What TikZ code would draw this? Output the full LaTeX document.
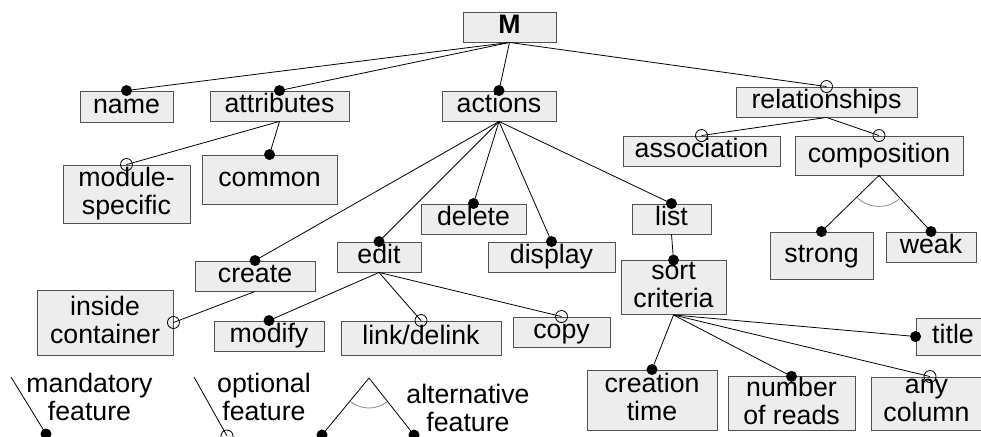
\documentclass[tikz,border=0pt]{standalone}
\usepackage{fontspec}
\setmainfont{Liberation Sans}
\usetikzlibrary{calc}
% strut giving every text line the same height and depth
\newcommand\lnstrut{\rule[-6pt]{0pt}{25pt}}

\begin{document}
\begin{tikzpicture}[x=1pt,y=-1pt,
  txt/.style={inner sep=0pt,align=center,font=\fontsize{26.7}{28}\selectfont,
    execute at begin node=\lnstrut,execute at end node=\lnstrut},
  box/.style={txt,draw=black!68,fill=black!7,line width=0.9pt},
  conn/.style={draw=black,line width=0.8pt},
  mand/.style={circle,fill=black,draw=none,inner sep=0pt,minimum size=11pt},
  opt/.style={circle,draw=black,fill=none,line width=0.8pt,inner sep=0pt,minimum size=12pt},
  altarc/.style={draw=black!45,line width=0.8pt}]

\useasboundingbox (0,0) rectangle (981,436);
\clip (0,0) rectangle (981,436);

% feature boxes
\node[box,minimum width=93pt,minimum height=30pt]  (M)    at (509.5,27)  {\textbf{M}};
\node[box,minimum width=93pt,minimum height=31pt]  (name) at (126.5,106.5) {name};
\node[box,minimum width=139pt,minimum height=30pt] (attr) at (279.5,106) {attributes};
\node[box,minimum width=114pt,minimum height=30pt] (act)  at (499,106)   {actions};
\node[box,minimum width=181pt,minimum height=30pt] (rel)  at (826.5,102) {relationships};

\node[box,minimum width=127pt,minimum height=58pt] (mods) at (126.5,194) {module-\\specific};
\node[box,minimum width=135pt,minimum height=49pt] (comm) at (269.5,179.5) {common};
\node[box,minimum width=157pt,minimum height=30pt] (assoc) at (701.5,151) {association};
\node[box,minimum width=168pt,minimum height=39pt] (comp) at (879,155.5) {composition};

\node[box,minimum width=105pt,minimum height=30pt] (del)  at (473.5,219) {delete};
\node[box,minimum width=79pt,minimum height=30pt]  (list) at (671.5,219) {list};
\node[box,minimum width=84pt,minimum height=30pt]  (edit) at (379,257)   {edit};
\node[box,minimum width=127pt,minimum height=30pt] (disp) at (551.5,257) {display};
\node[box,minimum width=120pt,minimum height=30pt] (crt)  at (255,276)   {create};
\node[box,minimum width=105pt,minimum height=54pt] (sort) at (673.5,287.5) {sort\\criteria};
\node[box,minimum width=103pt,minimum height=47pt] (strg) at (821.5,255.5) {strong};
\node[box,minimum width=90pt,minimum height=30pt]  (weak) at (931,247)   {weak};

\node[box,minimum width=136pt,minimum height=65pt] (inc)  at (105,322.5) {inside\\container};
\node[box,minimum width=110pt,minimum height=30pt] (modf) at (269,336)   {modify};
\node[box,minimum width=160pt,minimum height=34pt] (link) at (421,338)   {link/delink};
\node[box,minimum width=97pt,minimum height=30pt]  (copy) at (561.5,332) {copy};
\node[box,minimum width=74pt,minimum height=37pt]  (ttl)  at (953,336.5) {title};

\node[box,minimum width=130pt,minimum height=60pt] (ctim) at (652,400)   {creation\\time};
\node[box,minimum width=127pt,minimum height=53pt] (nrd)  at (791.5,403.5) {number\\of reads};
\node[box,minimum width=111pt,minimum height=53pt] (anyc) at (926.5,403.5) {any\\column};

% connectors
\draw[conn] (M.south) -- (name.north) node[mand]{};
\draw[conn] (M.south) -- (attr.north) node[mand]{};
\draw[conn] (M.south) -- (act.north) node[mand]{};
\draw[conn] (M.south) -- (rel.north) node[opt]{};

\draw[conn] (attr.south) -- (mods.north) node[opt]{};
\draw[conn] (attr.south) -- (comm.north) node[mand]{};

\draw[conn] (rel.south) -- (assoc.north) node[opt]{};
\draw[conn] (rel.south) -- (comp.north) node[opt]{};

\draw[conn] (comp.south) -- (strg.north) node[mand]{};
\draw[conn] (comp.south) -- (weak.north) node[mand]{};
\draw[altarc] ($(comp.south)+(225:31pt)$) arc[start angle=225,end angle=313,radius=31pt];

\draw[conn] (act.south) -- (crt.north) node[mand]{};
\draw[conn] (act.south) -- (edit.north) node[mand]{};
\draw[conn] (act.south) -- (del.north) node[mand]{};
\draw[conn] (act.south) -- (disp.north) node[mand]{};
\draw[conn] (act.south) -- (list.north) node[mand]{};

\draw[conn] (crt.south) -- (inc.east) node[opt]{};

\draw[conn] (edit.south) -- (modf.north) node[mand]{};
\draw[conn] (edit.south) -- (link.north) node[opt]{};
\draw[conn] (edit.south) -- (copy.north) node[opt]{};

\draw[conn] (list.south) -- (sort.north) node[mand]{};

\draw[conn] (sort.south) -- (ttl.west) node[mand]{};
\draw[conn] (sort.south) -- (ctim.north) node[mand]{};
\draw[conn] (sort.south) -- (nrd.north) node[mand]{};
\draw[conn] (sort.south) -- ([xshift=3.5pt]anyc.north) node[opt]{};

% legend
\coordinate (lmtop) at (11,377);
\coordinate (lmend) at (46,434);
\draw[conn] (lmtop) -- (lmend) node[mand]{};
\node[txt] (lmtxt) at (89.5,400) {mandatory\\feature};

\coordinate (lotop) at (194,377);
\coordinate (loend) at (227,436);
\draw[conn] (lotop) -- (loend) node[opt]{};
\node[txt] (lotxt) at (264,400) {optional\\feature};

\coordinate (laapex) at (369,378);
\coordinate (laleft) at (322,435);
\coordinate (laright) at (414,435);
\draw[conn] (laapex) -- (laleft) node[mand]{};
\draw[conn] (laapex) -- (laright) node[mand]{};
\draw[altarc] ($(laapex)+(230:30pt)$) arc[start angle=230,end angle=308,radius=30pt];
\node[txt] (latxt) at (468,411) {alternative\\feature};
\end{tikzpicture}
\end{document}
